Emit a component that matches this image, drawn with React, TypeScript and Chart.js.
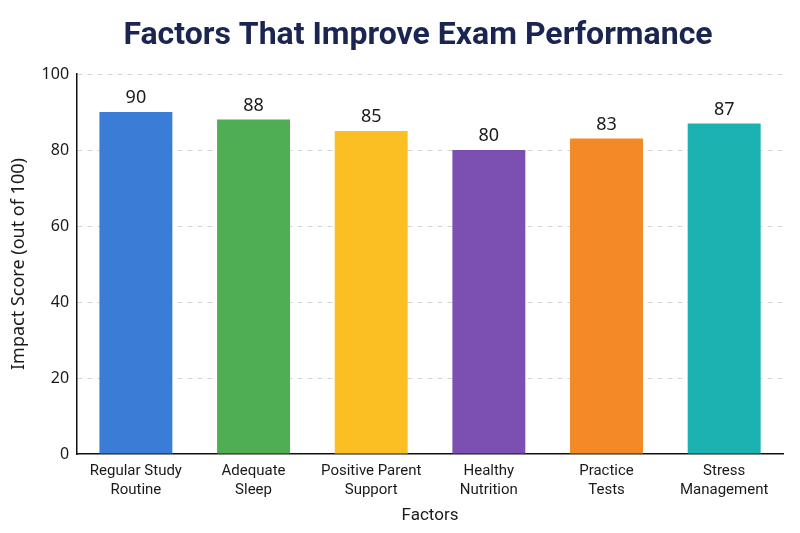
import React, { useEffect, useRef } from "react";
import { Chart, registerables } from "chart.js";

Chart.register(...registerables);

const titleText = "Factors That Improve Exam Performance";
const categories: string[][] = [
  ["Regular Study", "Routine"],
  ["Adequate", "Sleep"],
  ["Positive Parent", "Support"],
  ["Healthy", "Nutrition"],
  ["Practice", "Tests"],
  ["Stress", "Management"],
];
const scores = [90, 88, 85, 80, 83, 87];
const barColors = ["#3a7dd6", "#4fad53", "#fbbf24", "#7c4fb3", "#f38a26", "#1db2b2"];
const yTicks = [0, 20, 40, 60, 80, 100];

const condensed = "'Roboto', 'DejaVu Sans Condensed', sans-serif";
const sans = "'Noto Sans', 'Open Sans', sans-serif";

// Prints each bar's value just above its top edge.
const valueLabels = {
  id: "valueLabels",
  afterDatasetsDraw(chart: any) {
    const { ctx } = chart;
    const meta = chart.getDatasetMeta(0);
    ctx.save();
    ctx.font = `18px ${sans}`;
    ctx.fillStyle = "#1a1a1a";
    ctx.textAlign = "center";
    ctx.textBaseline = "bottom";
    meta.data.forEach((bar: any, i: number) => {
      ctx.fillText(String(scores[i]), bar.x, bar.y - 5);
    });
    ctx.restore();
  },
};

// Heading drawn across the top of the canvas.
const heading = {
  id: "heading",
  afterDraw(chart: any) {
    const { ctx } = chart;
    ctx.save();
    ctx.font = `bold 32px ${condensed}`;
    ctx.fillStyle = "#1b2552";
    ctx.textAlign = "center";
    ctx.textBaseline = "middle";
    ctx.fillText(titleText, 418, 36);
    ctx.restore();
  },
};

export default function App() {
  const canvasRef = useRef<HTMLCanvasElement | null>(null);

  useEffect(() => {
    document.body.style.margin = "0";
    const chart = new Chart(canvasRef.current!, {
      type: "bar",
      data: {
        labels: categories,
        datasets: [
          {
            data: scores,
            backgroundColor: barColors,
            categoryPercentage: 0.62,
            barPercentage: 1,
          },
        ],
      },
      plugins: [valueLabels, heading],
      options: {
        responsive: false,
        animation: false,
        layout: { padding: { left: 4, right: 17, top: 74, bottom: 7 } },
        plugins: {
          legend: { display: false },
          tooltip: { enabled: false },
          title: { display: false },
        },
        scales: {
          x: {
            grid: { display: false },
            border: { color: "#111", width: 1.5 },
            ticks: {
              color: "#1a1a1a",
              font: { family: condensed, size: 15, lineHeight: 1.25 },
              padding: 0,
              maxRotation: 0,
            },
            title: {
              display: true,
              text: "Factors",
              color: "#1a1a1a",
              font: { family: condensed, size: 17 },
              padding: { top: 6, bottom: 0 },
            },
          },
          y: {
            min: 0,
            max: 100,
            afterBuildTicks: (axis: any) => {
              axis.ticks = yTicks.map((v) => ({ value: v }));
            },
            grid: {
              color: (c: any) => (c.tick && c.tick.value === 0 ? "rgba(0,0,0,0)" : "#d4d4d4"),
              drawTicks: false,
            },
            border: { color: "#111", width: 1.5, dash: [5, 5] },
            ticks: {
              color: "#1a1a1a",
              font: { family: sans, size: 16 },
              padding: 8,
            },
            title: {
              display: true,
              text: "Impact Score (out of 100)",
              color: "#1a1a1a",
              font: { family: sans, size: 18 },
              padding: { top: 4, bottom: 4 },
            },
          },
        },
      },
    });
    return () => chart.destroy();
  }, []);

  return (
    <div style={{ position: "absolute", left: 0, top: 0, width: 800, height: 533, background: "#fff" }}>
      <canvas ref={canvasRef} width={800} height={533} />
    </div>
  );
}
